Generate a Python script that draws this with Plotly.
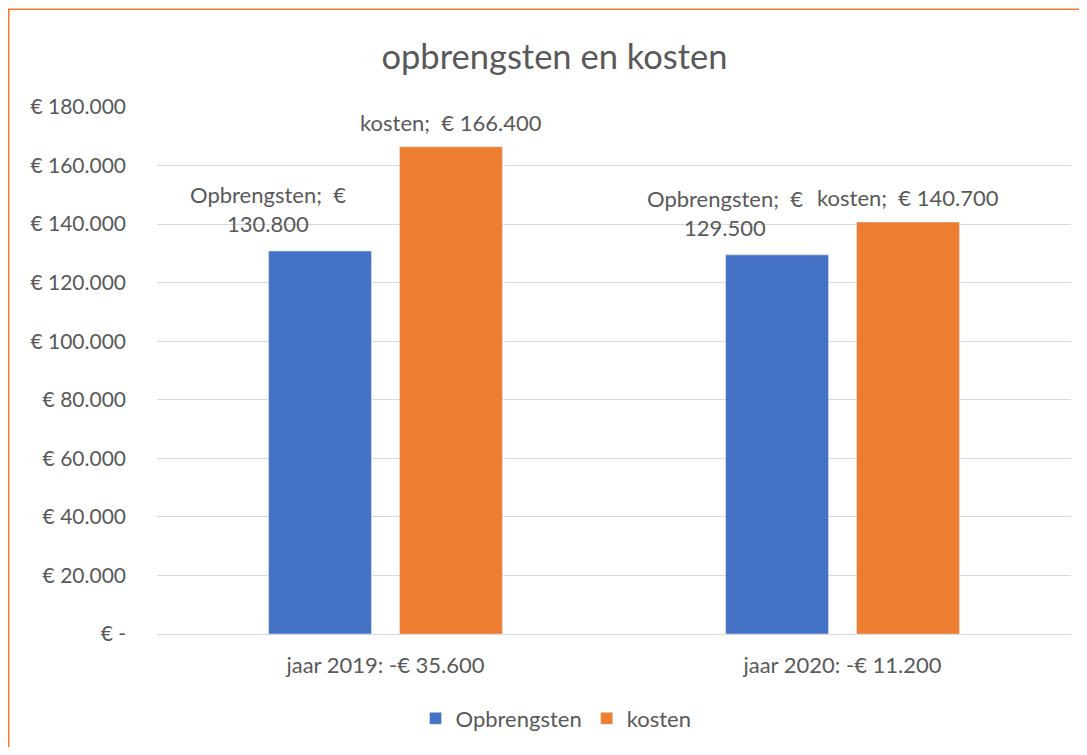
import plotly.graph_objects as go

categories = ["jaar 2019: -€ 35.600", "jaar 2020: -€ 11.200"]
opbrengsten = [130800, 129500]
kosten = [166400, 140700]
tick_vals = [0, 20000, 40000, 60000, 80000, 100000, 120000, 140000, 160000, 180000]
tick_text = ["€ -", "€ 20.000", "€ 40.000", "€ 60.000", "€ 80.000", "€ 100.000",
             "€ 120.000", "€ 140.000", "€ 160.000", "€ 180.000"]

def eur(v):
    return "€ " + f"{v:,}".replace(",", ".")

# the page body adds an 8px offset; figure coordinates = reference - 8
W, H = 1071, 739
ML, MR, MT, MB = 149, 8, 99, 110
PW, PH = W - ML - MR, H - MT - MB
FONT = "Lato, Carlito, Calibri, sans-serif"
GREY = "#595959"
BLUE = "#4472C4"
ORANGE = "#ED7D31"

fig = go.Figure()
fig.add_trace(go.Bar(name="Opbrengsten", x=categories, y=opbrengsten, marker_color=BLUE))
fig.add_trace(go.Bar(name="kosten", x=categories, y=kosten, marker_color=ORANGE))

annotations = []
for c, v in zip(categories, opbrengsten):
    annotations.append(dict(x=c, y=v, xref="x", yref="y", text="Opbrengsten;  €<br>" + f"{v:,}".replace(",", "."),
                            showarrow=False, xanchor="center", yanchor="bottom", xshift=-118, yshift=12,
                            font=dict(family=FONT, size=22, color=GREY)))
for c, v in zip(categories, kosten):
    annotations.append(dict(x=c, y=v, xref="x", yref="y", text="kosten;  " + eur(v),
                            showarrow=False, xanchor="center", yanchor="bottom", xshift=65, yshift=9,
                            font=dict(family=FONT, size=22, color=GREY)))

fig.update_layout(
    width=W, height=H,
    margin=dict(l=ML, r=MR, t=MT, b=MB),
    paper_bgcolor="white", plot_bgcolor="white",
    barmode="group", bargap=0.427, bargroupgap=0.214,
    title=dict(text="opbrengsten en kosten", x=546.5 / W, xanchor="center", y=1 - 49 / H, yanchor="middle",
               font=dict(family=FONT, size=34.5, color=GREY)),
    font=dict(family=FONT, size=21, color=GREY),
    legend=dict(orientation="h", x=(548 - ML) / PW, xanchor="center", y=-(714 - MT - PH) / PH, yanchor="middle",
                font=dict(family=FONT, size=22, color=GREY), itemwidth=30, traceorder="normal"),
    xaxis=dict(showgrid=False, showline=False, ticks="", tickfont=dict(family=FONT, size=22, color=GREY),
               ticklabelstandoff=16),
    yaxis=dict(range=[0, 180000], tickvals=tick_vals, ticktext=tick_text, showgrid=True,
               gridcolor="#D9D9D9", gridwidth=1, zeroline=True, zerolinecolor="#D9D9D9", zerolinewidth=1,
               showline=False, ticks="", tickfont=dict(family=FONT, size=21, color=GREY), ticklabelstandoff=30),
    annotations=annotations,
    shapes=[dict(type="rect", xref="paper", yref="paper",
                 x0=(0.75 - ML) / PW, x1=(W + 20 - ML) / PW,
                 y0=-(H + 20 - MT - PH) / PH, y1=1 + (MT - 0.75) / PH,
                 line=dict(color=ORANGE, width=1.5), fillcolor="rgba(0,0,0,0)", layer="above")],
    showlegend=True,
)

fig.write_html("out.html")
